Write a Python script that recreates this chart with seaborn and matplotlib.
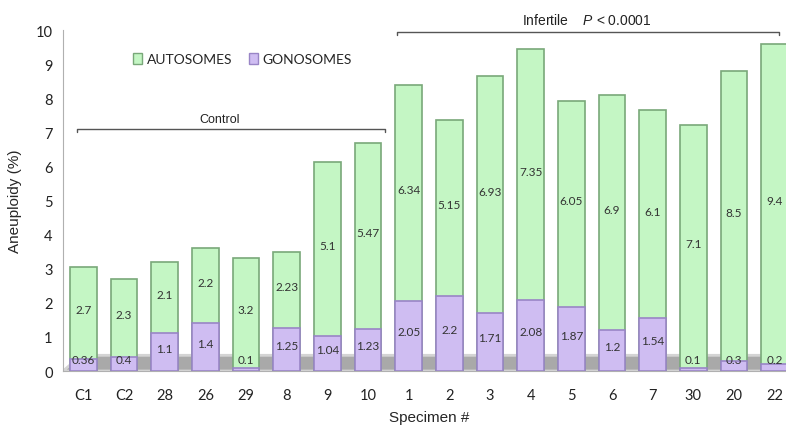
#!/usr/bin/env python3
import numpy as np
import pandas as pd
import matplotlib
matplotlib.use('Agg')
import matplotlib.pyplot as plt
from matplotlib.patches import Polygon, Patch
import seaborn as sns

specimens = ['C1', 'C2', '28', '26', '29', '8', '9', '10', '1', '2', '3', '4', '5', '6', '7', '30', '20', '22']
gonosomes = [0.36, 0.4, 1.1, 1.4, 0.1, 1.25, 1.04, 1.23, 2.05, 2.2, 1.71, 2.08, 1.87, 1.2, 1.54, 0.1, 0.3, 0.2]
autosomes = [2.7, 2.3, 2.1, 2.2, 3.2, 2.23, 5.1, 5.47, 6.34, 5.15, 6.93, 7.35, 6.05, 6.9, 6.1, 7.1, 8.5, 9.4]

GREEN = '#c4f6c4'
GREEN_EDGE = '#79a879'
PURPLE = '#cfbdf2'
PURPLE_EDGE = '#9985c6'


def plot_aneuploidy(output='out.png'):
    df = pd.DataFrame({'specimen': specimens, 'gono': gonosomes, 'auto': autosomes})
    df['total'] = df['gono'] + df['auto']
    n = len(df)

    fig = plt.figure(figsize=(7.86, 4.27), dpi=100)
    ax = fig.add_axes([0.0802, 0.1288, 0.9313, 0.7986])

    # grey floor of the old 3D excel chart
    ax.add_patch(Polygon([(-0.5, 0), (-0.05, 0.46), (n - 0.5, 0.46), (n - 0.5, 0)],
                         closed=True, facecolor='#a9a9a9', edgecolor='#d4d4d4', lw=2, zorder=0))

    sns.barplot(data=df, x='specimen', y='total', order=specimens, color=GREEN,
                width=0.66, edgecolor=GREEN_EDGE, linewidth=1.2, saturation=1, ax=ax, zorder=2)
    sns.barplot(data=df, x='specimen', y='gono', order=specimens, color=PURPLE,
                width=0.66, edgecolor=PURPLE_EDGE, linewidth=1.2, saturation=1, ax=ax, zorder=3)

    # value labels in the middle of each segment
    for i, row in df.iterrows():
        yg = max(row['gono'] / 2 + 0.12, 0.33)
        ax.text(i, yg, f"{row['gono']:g}", ha='center', va='center', fontsize=8.5,
                color='#333333', family='Lato', zorder=5)
        ya = row['gono'] + row['auto'] / 2 + 0.1
        ax.text(i, ya, f"{row['auto']:g}", ha='center', va='center', fontsize=8.5,
                color='#333333', family='Lato', zorder=5)

    ax.set_xlim(-0.5, n - 0.5)
    ax.set_ylim(0, 10)
    ax.set_yticks(range(0, 11))
    ax.set_xticks(range(n), labels=specimens)
    ax.set_xticks(np.arange(n + 1) - 0.5, minor=True)
    ax.tick_params(axis='x', which='major', length=0, pad=12, labelsize=10.5, labelcolor='#222222')
    ax.tick_params(axis='x', which='minor', length=5, color='#b0b0b0', direction='out')
    ax.tick_params(axis='y', length=4, color='#b0b0b0', labelsize=10.5, labelcolor='#222222')
    for lab in ax.get_xticklabels() + ax.get_yticklabels():
        lab.set_family('Lato')

    for side in ['top', 'right']:
        ax.spines[side].set_visible(False)
    ax.spines['left'].set_color('#b0b0b0')
    ax.spines['bottom'].set_color('#b0b0b0')

    ax.set_xlabel('Specimen #', fontsize=11, family='Liberation Sans', labelpad=6)
    ax.set_ylabel('Aneuploidy (%)', fontsize=11, family='Liberation Sans', labelpad=10)

    # group brackets
    ax.plot([-0.16, -0.16, 7.41, 7.41], [7.0, 7.1, 7.1, 7.0], color='#555555', lw=1, clip_on=False)
    ax.text(3.36, 7.22, 'Control', ha='center', va='bottom', fontsize=9,
            family='Liberation Sans', color='#222222')
    ax.plot([7.71, 7.71, 17.1, 17.1], [9.84, 9.94, 9.94, 9.84], color='#555555', lw=1, clip_on=False)
    ax.text(12.37, 10.08, 'Infertile    $P$ < 0.0001', ha='center', va='bottom', fontsize=10,
            family='Liberation Sans', color='#222222', clip_on=False)

    handles = [Patch(facecolor=GREEN, edgecolor=GREEN_EDGE), Patch(facecolor=PURPLE, edgecolor=PURPLE_EDGE)]
    ax.legend(handles, ['AUTOSOMES', 'GONOSOMES'], loc='center', bbox_to_anchor=(0.245, 0.915),
              ncol=2, frameon=False, handlelength=0.7, handleheight=0.9, handletextpad=0.3,
              columnspacing=1.2, prop={'family': 'Lato', 'size': 10})

    fig.savefig(output, dpi=100)
    plt.close(fig)


def main():
    sns.set_style('white')
    plt.rcParams['mathtext.fontset'] = 'custom'
    plt.rcParams['mathtext.it'] = 'Liberation Sans:italic'
    plt.rcParams['mathtext.rm'] = 'Liberation Sans'
    plot_aneuploidy()


if __name__ == '__main__':
    main()
